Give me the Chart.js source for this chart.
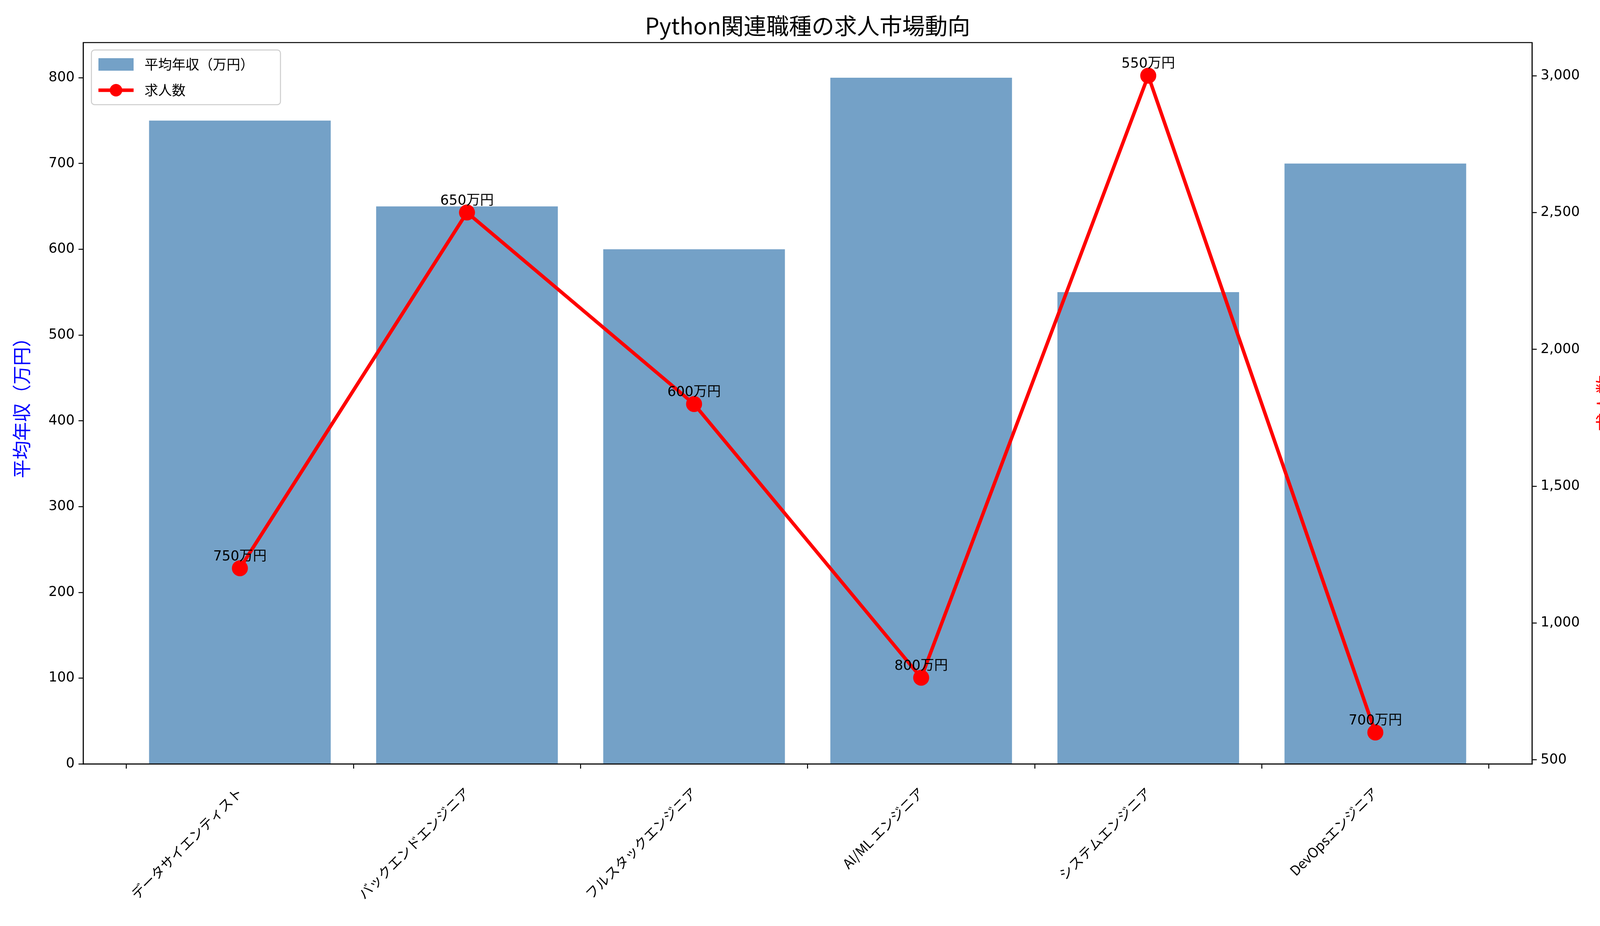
<!DOCTYPE html>
<html><head><meta charset="utf-8">
<script src="https://cdn.jsdelivr.net/npm/chart.js@4.4.0/dist/chart.umd.min.js"></script>
<style>html,body{margin:0;padding:0;background:#fff}#c{display:block}</style>
</head><body>
<canvas id="c" width="4167" height="2371" style="width:4167px;height:2371px"></canvas>
<script>
const categories = ["データサイエンティスト","バックエンドエンジニア","フルスタックエンジニア","AI/ML エンジニア","システムエンジニア","DevOpsエンジニア"];
const salary = [750,650,600,800,550,700];
const jobs = [1200,2500,1800,800,3000,600];
const FONT = "'DejaVu Sans','Noto Sans CJK JP',sans-serif";
const JP = "'Noto Sans CJK JP','DejaVu Sans',sans-serif";

const overlay = {
  id:'overlay',
  afterDatasetsDraw(chart){
    const ctx=chart.ctx, meta=chart.getDatasetMeta(0);
    ctx.save();
    ctx.fillStyle='#000'; ctx.font="35px "+FONT; ctx.textAlign='center'; ctx.textBaseline='bottom';
    meta.data.forEach((b,i)=>{ ctx.fillText(salary[i]+'万円', b.x, b.y-12); });
    ctx.restore();
  },
  afterDraw(chart){
    const ctx=chart.ctx, a=chart.chartArea;
    ctx.save();
    ctx.strokeStyle='#000'; ctx.lineWidth=2.5;
    ctx.strokeRect(a.left,a.top,a.right-a.left,a.bottom-a.top);
    // title
    ctx.fillStyle='#000'; ctx.font="58px "+JP; ctx.textAlign='center'; ctx.textBaseline='bottom';
    ctx.fillText('Python関連職種の求人市場動向',(a.left+a.right)/2,a.top-14);
    // axis titles
    ctx.font="48px "+JP; ctx.textBaseline='middle';
    ctx.save(); ctx.translate(55,(a.top+a.bottom)/2); ctx.rotate(-Math.PI/2);
    ctx.fillStyle='#0000ff'; ctx.fillText('平均年収（万円）',0,0); ctx.restore();
    ctx.save(); ctx.translate(4108,(a.top+a.bottom)/2); ctx.rotate(-Math.PI/2);
    ctx.fillStyle='#ff0000'; ctx.fillText('求人数',0,0); ctx.restore();
    // legend
    const lx=234, ly=128;
    ctx.fillStyle='rgba(255,255,255,0.8)'; ctx.strokeStyle='#cccccc'; ctx.lineWidth=2.5;
    ctx.beginPath(); ctx.roundRect(lx,ly,484,140,8); ctx.fill(); ctx.stroke();
    ctx.fillStyle='rgba(70,130,180,0.75)'; ctx.fillRect(252,149,90,32);
    ctx.strokeStyle='#ff0000'; ctx.lineWidth=9;
    ctx.beginPath(); ctx.moveTo(252,231); ctx.lineTo(342,231); ctx.stroke();
    ctx.fillStyle='#ff0000'; ctx.beginPath(); ctx.arc(297,231,16,0,Math.PI*2); ctx.fill();
    ctx.fillStyle='#000'; ctx.font="35px "+JP; ctx.textAlign='left';
    ctx.fillText('平均年収（万円）',370,165); ctx.fillText('求人数',370,231);
    ctx.restore();
  }
};

new Chart(document.getElementById('c'),{
  data:{datasets:[
    {type:'line',label:'求人数',data:jobs.map((v,i)=>({x:i,y:v})),yAxisID:'y2',borderColor:'#ff0000',backgroundColor:'#ff0000',borderWidth:9,pointRadius:16,pointHoverRadius:16,tension:0,order:0},
    {type:'bar',label:'平均年収（万円）',data:salary.map((v,i)=>({x:i,y:v})),yAxisID:'y',backgroundColor:'rgba(70,130,180,0.75)',barPercentage:0.8,categoryPercentage:1,order:1}
  ]},
  options:{
    responsive:false,animation:false,
    layout:{padding:{top:109,left:0,right:0,bottom:0}},
    plugins:{legend:{display:false},tooltip:{enabled:false}},
    scales:{
      x:{type:'linear',min:-0.69,max:5.69,offset:false,
        afterBuildTicks(s){s.ticks=categories.map((c,i)=>({value:i}));},
        afterFit(s){s.height=415;},
        grid:{display:true,drawOnChartArea:false,drawTicks:true,tickLength:12,color:'#000',lineWidth:2.5},
        border:{display:true,color:'#000',width:2.5},
        ticks:{autoSkip:false,maxRotation:45,minRotation:45,align:'center',padding:40,color:'#000',font:{size:35,family:JP},callback:(v)=>categories[Math.round(v)]}},
      y:{position:'left',min:0,max:841,
        afterBuildTicks(s){s.ticks=[0,100,200,300,400,500,600,700,800].map(v=>({value:v}));},
        afterFit(s){s.width=213;},
        grid:{display:true,drawOnChartArea:false,drawTicks:true,tickLength:12,color:'#000',lineWidth:2.5},
        border:{display:true,color:'#000',width:2.5},
        ticks:{color:'#000',padding:10,font:{size:35,family:FONT}}},
      y2:{position:'right',min:485,max:3121,
        afterBuildTicks(s){s.ticks=[500,1000,1500,2000,2500,3000].map(v=>({value:v}));},
        afterFit(s){s.width=245;},
        grid:{display:true,drawOnChartArea:false,drawTicks:true,tickLength:12,color:'#000',lineWidth:2.5},
        border:{display:true,color:'#000',width:2.5},
        ticks:{color:'#000',padding:10,font:{size:35,family:FONT}}}
    }
  },
  plugins:[overlay]
});
</script>
</body></html>
